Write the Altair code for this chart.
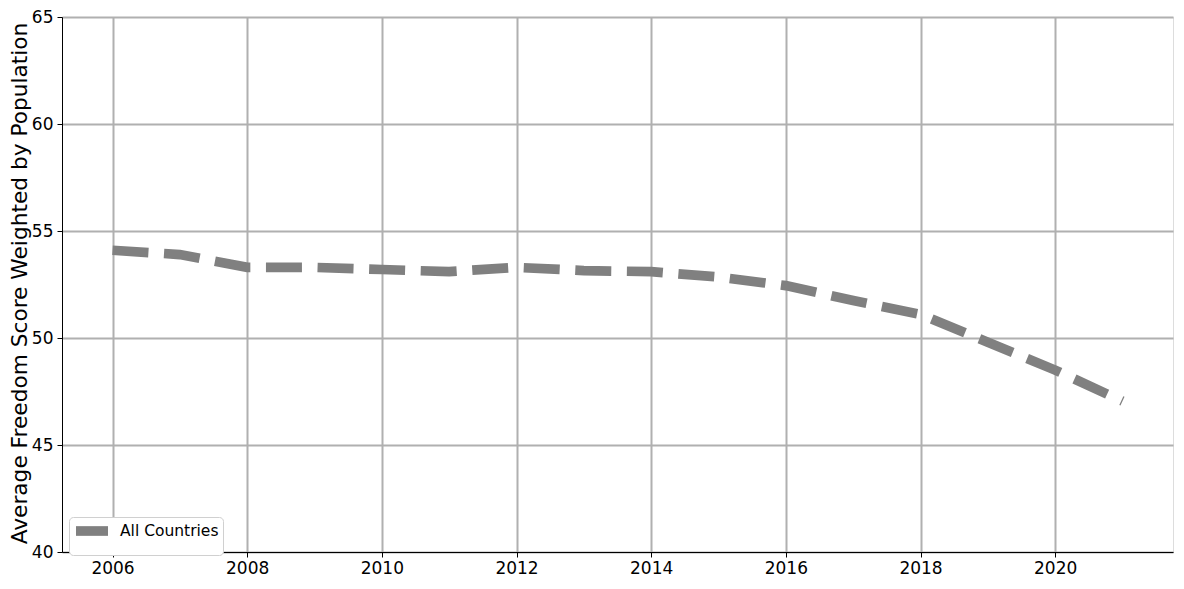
import altair as alt
import pandas as pd

years = [2006, 2007, 2008, 2009, 2010, 2011, 2012, 2013, 2014, 2015, 2016, 2017, 2018, 2019, 2020, 2021]
scores = [54.1, 53.9, 53.3, 53.3, 53.2, 53.1, 53.3, 53.15, 53.1, 52.85, 52.45, 51.75, 51.1, 49.8, 48.5, 47.05]
series = ["All Countries"] * len(years)
dash_style = ["dashed"] * len(years)

df = pd.DataFrame({"year": years, "score": scores, "series": series, "style": dash_style})

FONT = "DejaVu Sans"

chart = alt.Chart(df).mark_line(
    strokeWidth=9.7, strokeCap="butt", clip=True
).encode(
    x=alt.X("year:Q",
            scale=alt.Scale(domain=[2005.25, 2021.75], nice=False, zero=False),
            axis=alt.Axis(values=[2006, 2008, 2010, 2012, 2014, 2016, 2018, 2020],
                          format="d", title=None, labelFontSize=17,
                          labelFont=FONT, labelColor="black", labelPadding=3,
                          tickSize=5, tickColor="black", domainColor="black",
                          gridColor="#b0b0b0", gridWidth=2)),
    y=alt.Y("score:Q",
            scale=alt.Scale(domain=[40, 65], nice=False, zero=False),
            axis=alt.Axis(values=[40, 45, 50, 55, 60, 65],
                          title="Average Freedom Score Weighted by Population",
                          titleFont=FONT, titleFontSize=21.7, titleFontWeight="normal",
                          titleColor="black", titleX=-43, titleY=266,
                          titleAlign="center", titleBaseline="middle", titleAngle=-90,
                          labelFontSize=17, labelFont=FONT, labelColor="black",
                          labelPadding=4, tickSize=5, tickColor="black",
                          domainColor="black", gridColor="#b0b0b0", gridWidth=2)),
    strokeDash=alt.StrokeDash("style:N",
                              scale=alt.Scale(domain=["dashed"], range=[[36, 15.6]]),
                              legend=None),
    color=alt.Color("series:N",
                    scale=alt.Scale(domain=["All Countries"], range=["#808080"]),
                    legend=alt.Legend(title=None, orient="none", legendX=7, legendY=500,
                                      symbolType="M-3.2,0H3.2", symbolSize=100,
                                      symbolStrokeWidth=9.7, symbolOffset=9,
                                      labelFont=FONT, labelFontSize=15.5,
                                      labelColor="black", labelOffset=18,
                                      padding=4, fillColor="white",
                                      strokeColor="#d0d0d0", cornerRadius=4)),
).properties(
    width=1111, height=535,
    autosize=alt.AutoSizeParams(type="none"),
    padding={"left": 54, "top": 9, "right": 1, "bottom": 24},
).configure_view(
    stroke="black", strokeWidth=1
).configure(background="white")

chart.save("out.html", embed_options={"renderer": "svg", "actions": False})
